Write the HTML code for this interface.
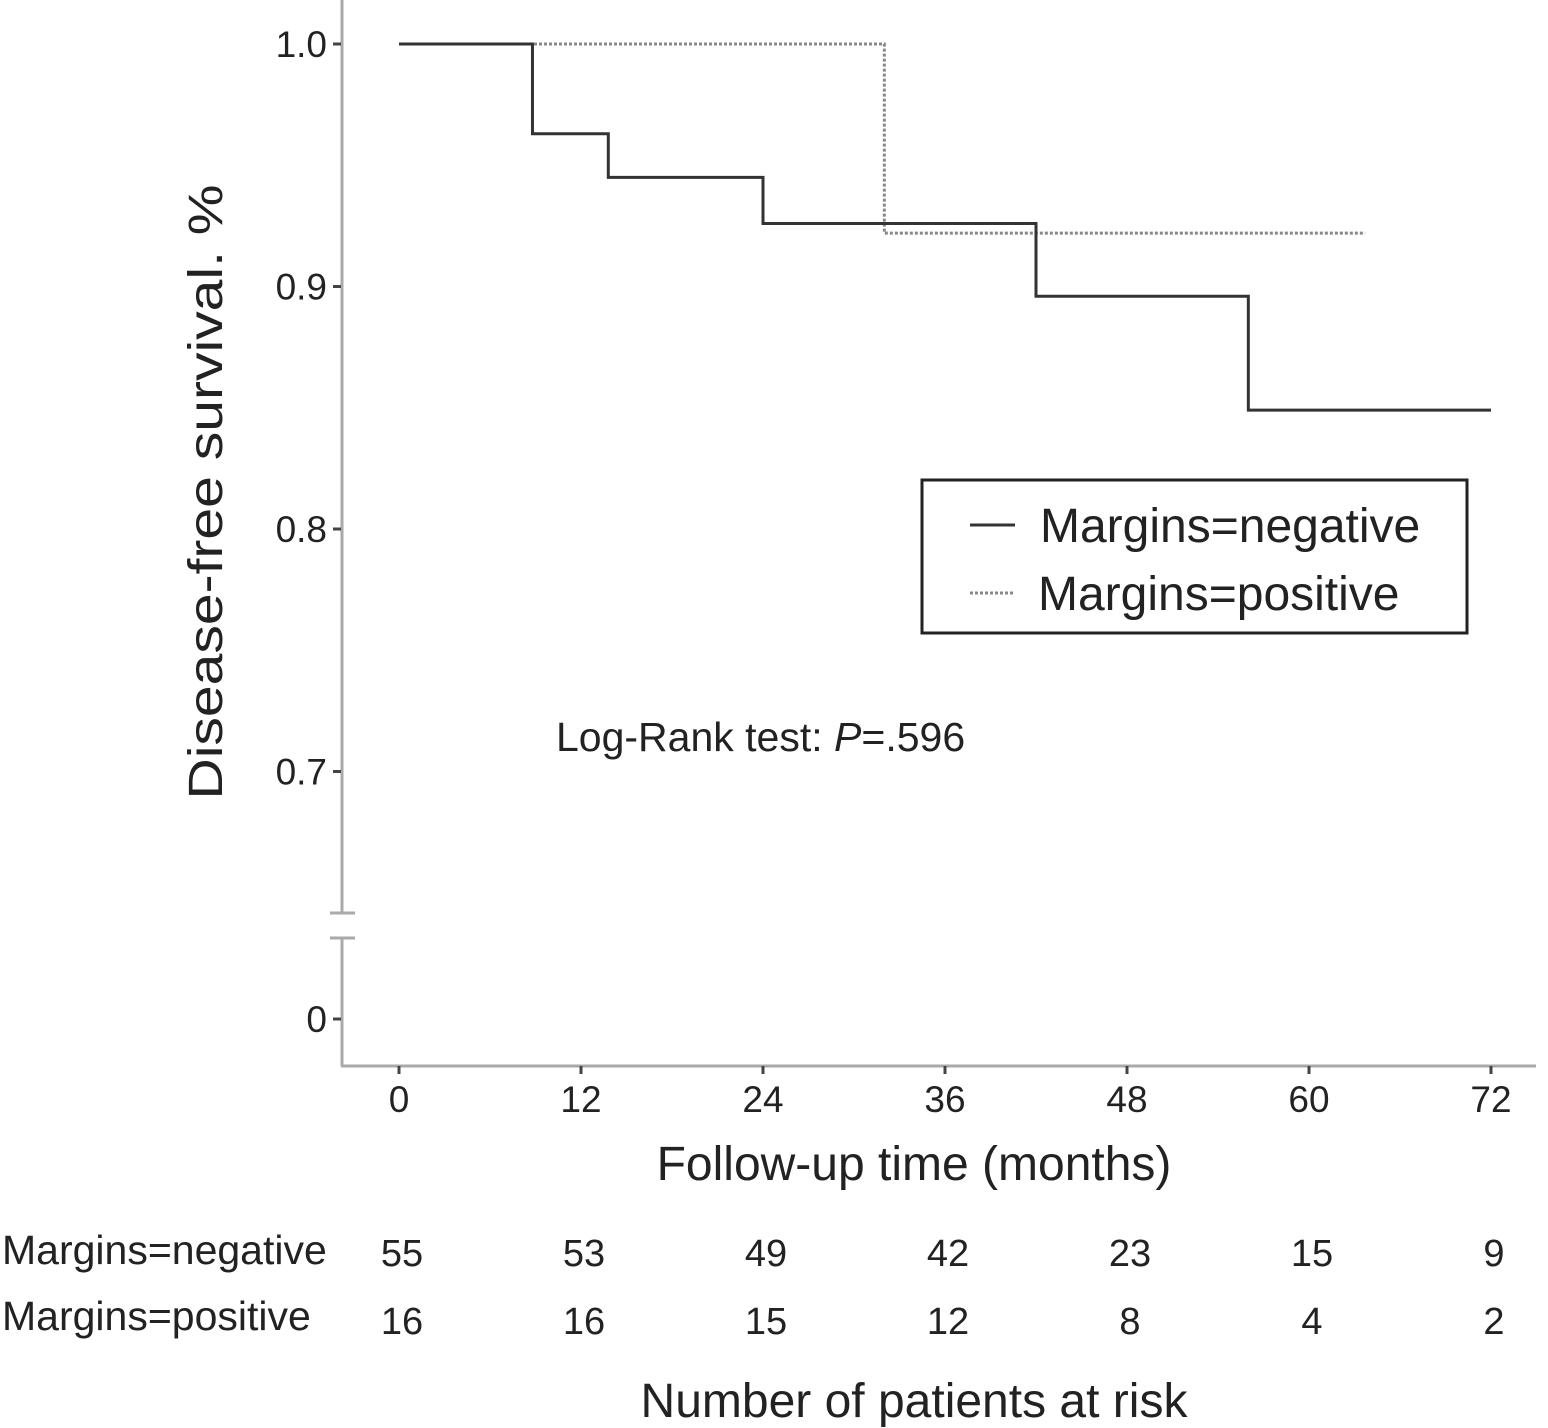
<!DOCTYPE html>
<html><head><meta charset="utf-8"><style>
body{margin:0;background:#fff;}
svg{display:block;font-family:"Liberation Sans",sans-serif;}
</style></head><body>
<svg id="chart" width="1548" height="1428" viewBox="0 0 1548 1428">
<g id="axes"></g>
<g id="curves"></g>
<text x="0" y="0" transform="translate(222,492) rotate(-90)" text-anchor="middle" font-size="48" textLength="615" lengthAdjust="spacingAndGlyphs" fill="#222">Disease-free survival. %</text>
<text x="914" y="1180" text-anchor="middle" font-size="48" fill="#222">Follow-up time (months)</text>
<text x="556" y="751" font-size="41" fill="#222">Log-Rank test: <tspan font-style="italic">P</tspan>=.596</text>
<g>
<rect x="922" y="480" width="545" height="153" fill="#fff" stroke="#222" stroke-width="3"/>
<line x1="970" y1="525" x2="1015" y2="525" stroke="#333" stroke-width="3"/>
<text x="1040" y="542" font-size="48" fill="#222">Margins=negative</text>
<line x1="970" y1="593" x2="1015" y2="593" stroke="#888" stroke-width="3" stroke-dasharray="3,2"/>
<text x="1038" y="610" font-size="48" fill="#222">Margins=positive</text>
</g>
<g id="risk"></g>
<text x="914" y="1417" text-anchor="middle" font-size="48" fill="#222">Number of patients at risk</text>
</svg>
<script>
const xTicks=[0,12,24,36,48,60,72];
const yTicks=[1.0,0.9,0.8,0.7];
const yTickLabels=["1.0","0.9","0.8","0.7"];
const negTimes=[0,8.8,13.8,24,42,56,72];
const negSurv=[1.0,0.963,0.945,0.926,0.896,0.849,0.849];
const posTimes=[0,32,63.7];
const posSurv=[1.0,0.922,0.922];
const riskNeg=[55,53,49,42,23,15,9];
const riskPos=[16,16,15,12,8,4,2];
const NS="http://www.w3.org/2000/svg";
const X=t=>399+t*(1491-399)/72;
const Y=v=>44+(1.0-v)*2425;
function mk(tag,attrs,parent){const e=document.createElementNS(NS,tag);for(const k in attrs)e.setAttribute(k,attrs[k]);parent.appendChild(e);return e;}
const ax=document.getElementById('axes');
let e;
e=mk('line',{x1:342,y1:0,x2:342,y2:913,stroke:'#aaa','stroke-width':3},ax);


e=mk('line',{x1:342,y1:938,x2:342,y2:1066,stroke:'#aaa','stroke-width':3},ax);


e=mk('line',{x1:330,y1:913,x2:355,y2:913,stroke:'#aaa','stroke-width':3},ax);


e=mk('line',{x1:330,y1:938,x2:355,y2:938,stroke:'#aaa','stroke-width':3},ax);


e=mk('line',{x1:341,y1:1066,x2:1536,y2:1066,stroke:'#aaa','stroke-width':3},ax);


yTicks.forEach((v,i)=>{
  const t=mk('line',{x1:333,y1:Y(v),x2:341,y2:Y(v),stroke:'#444','stroke-width':3},ax);
  
  
  const l=mk('text',{x:327,y:Y(v)+13,'text-anchor':'end','font-size':37,fill:'#222'},ax);
  l.textContent=yTickLabels[i];
  
  
});
e=mk('line',{x1:333,y1:1019,x2:341,y2:1019,stroke:'#444','stroke-width':3},ax);


e=mk('text',{x:327,y:1032,'text-anchor':'end','font-size':37,fill:'#222'},ax);
e.textContent='0';


xTicks.forEach(t=>{
  const k=mk('line',{x1:X(t),y1:1066,x2:X(t),y2:1074,stroke:'#444','stroke-width':3},ax);
  
  
  const l=mk('text',{x:X(t),y:1112,'text-anchor':'middle','font-size':37,fill:'#222'},ax);
  l.textContent=t;
  
  
});
function stepPath(ts,ss){let d=`M${X(ts[0])},${Y(ss[0])}`;for(let i=1;i<ts.length;i++){d+=` H${X(ts[i])} V${Y(ss[i])}`;}return d;}
const cv=document.getElementById('curves');
e=mk('path',{d:stepPath(posTimes,posSurv),fill:'none',stroke:'#888','stroke-width':3,'stroke-dasharray':'3,2'},cv);


e=mk('path',{d:stepPath(negTimes,negSurv),fill:'none',stroke:'#333','stroke-width':3},cv);


const rk=document.getElementById('risk');
e=mk('text',{x:2,y:1264,'font-size':41,fill:'#222'},rk);
e.textContent='Margins=negative';


e=mk('text',{x:2,y:1330,'font-size':41,fill:'#222'},rk);
e.textContent='Margins=positive';


xTicks.forEach((t,i)=>{
  const a=mk('text',{x:X(t)+3,y:1266,'text-anchor':'middle','font-size':38,fill:'#222'},rk);
  a.textContent=riskNeg[i];
  
  
  const b=mk('text',{x:X(t)+3,y:1334,'text-anchor':'middle','font-size':38,fill:'#222'},rk);
  b.textContent=riskPos[i];
  
  
});
</script>
</body></html>
